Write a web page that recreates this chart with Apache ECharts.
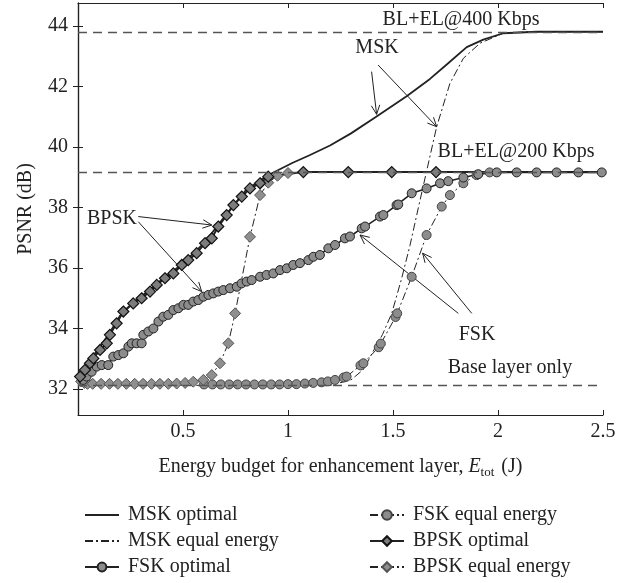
<!DOCTYPE html>
<html>
<head>
<meta charset="utf-8">
<script src="https://cdn.jsdelivr.net/npm/echarts@6/dist/echarts.min.js"></script>
<style>
html,body{margin:0;padding:0;background:#fff;}
#chart{width:631px;height:583px;}
</style>
</head>
<body>
<div id="chart"></div>
<script>
// ---------------- data ----------------
const xTicks = [0, 0.5, 1, 1.5, 2, 2.5];
const yTicks = [32, 34, 36, 38, 40, 42, 44];

const refLevels = [43.8, 39.16, 32.11];

const mskOptimal = [[0.01,32.42],[0.05,32.9],[0.1,33.35],[0.15,33.85],[0.2,34.42],[0.26,34.85],[0.3,35.05],[0.4,35.62],[0.5,36.15],[0.6,36.82],[0.7,37.72],[0.8,38.58],[0.9,39.05],[1.02,39.47],[1.1,39.72],[1.2,40.05],[1.3,40.45],[1.42,41.0],[1.565,41.68],[1.676,42.25],[1.76,42.75],[1.851,43.3],[1.93,43.55],[2.025,43.76],[2.184,43.81],[2.5,43.81]];

const mskEqual = [[0.03,32.12],[1.2,32.12],[1.3,32.3],[1.36,32.65],[1.406,33.25],[1.45,33.8],[1.494,34.5],[1.541,35.65],[1.581,36.75],[1.621,38.0],[1.66,39.2],[1.708,40.67],[1.771,42.1],[1.835,42.93],[1.914,43.43],[2.025,43.76],[2.15,43.81],[2.5,43.81]];

const fskOptimal = [[0.025,32.3],[0.041,32.41],[0.065,32.57],[0.089,32.74],[0.113,32.79],[0.144,32.79],[0.168,33.07],[0.192,33.12],[0.216,33.18],[0.24,33.4],[0.256,33.51],[0.279,33.51],[0.303,33.51],[0.311,33.79],[0.335,33.9],[0.359,34.0],[0.383,34.23],[0.406,34.39],[0.43,34.45],[0.454,34.61],[0.478,34.67],[0.502,34.78],[0.525,34.78],[0.549,34.89],[0.573,34.94],[0.597,35.05],[0.621,35.11],[0.644,35.16],[0.668,35.22],[0.692,35.27],[0.724,35.33],[0.756,35.38],[0.779,35.49],[0.803,35.55],[0.827,35.6],[0.867,35.71],[0.898,35.77],[0.93,35.82],[0.962,35.93],[0.994,35.99],[1.025,36.1],[1.057,36.16],[1.097,36.26],[1.121,36.37],[1.152,36.43],[1.192,36.65],[1.224,36.76],[1.271,36.98],[1.295,37.04],[1.351,37.31],[1.367,37.37],[1.438,37.7],[1.454,37.75],[1.517,38.08],[1.525,38.1],[1.589,38.47],[1.66,38.63],[1.724,38.8],[1.763,38.87],[1.835,38.99],[1.906,39.1],[1.994,39.16],[2.089,39.16],[2.184,39.16],[2.279,39.16],[2.383,39.16],[2.494,39.16]];

const fskEqual = [[0.6,32.15],[0.64,32.15],[0.68,32.15],[0.72,32.15],[0.76,32.15],[0.8,32.15],[0.84,32.15],[0.88,32.15],[0.92,32.15],[0.96,32.15],[1.0,32.16],[1.04,32.16],[1.08,32.18],[1.12,32.2],[1.16,32.22],[1.19,32.25],[1.224,32.3],[1.265,32.38],[1.279,32.41],[1.345,32.78],[1.359,32.85],[1.432,33.38],[1.442,33.5],[1.512,34.38],[1.52,34.5],[1.589,35.71],[1.66,37.09],[1.732,38.03],[1.771,38.41],[1.835,38.8],[1.898,39.07],[1.96,39.16]];

const bpskOptimal = [[0.01,32.41],[0.033,32.63],[0.057,32.85],[0.073,33.01],[0.105,33.29],[0.137,33.51],[0.152,33.79],[0.184,34.17],[0.216,34.56],[0.263,34.83],[0.303,35.0],[0.343,35.22],[0.375,35.44],[0.414,35.66],[0.454,35.82],[0.494,36.1],[0.525,36.26],[0.565,36.49],[0.605,36.82],[0.637,36.98],[0.668,37.37],[0.708,37.75],[0.74,38.08],[0.78,38.36],[0.819,38.63],[0.867,38.8],[0.906,39.02],[1.073,39.17],[1.287,39.17],[1.494,39.17],[1.705,39.17]];
// where the BPSK optimal line continues flat with no marker
const bpskOptimalTail = [2.5, 39.17];

const bpskEqual = [[0.015,32.25],[0.03,32.2],[0.045,32.17],[0.07,32.17],[0.11,32.17],[0.15,32.17],[0.19,32.17],[0.23,32.17],[0.27,32.17],[0.31,32.17],[0.35,32.17],[0.39,32.17],[0.43,32.17],[0.47,32.18],[0.51,32.2],[0.549,32.24],[0.597,32.3],[0.637,32.46],[0.676,32.85],[0.716,33.51],[0.748,34.5],[0.819,37.03],[0.867,38.41],[0.906,38.82],[0.95,39.05],[1.0,39.14]];

// annotation texts: [label, x, y]
const annoTexts = [
  ['BL+EL@400 Kbps', 1.824, 44.2],
  ['MSK', 1.424, 43.27],
  ['BL+EL@200 Kbps', 2.086, 39.83],
  ['BPSK', 0.162, 37.62],
  ['FSK', 1.9, 33.79],
  ['Base layer only', 2.057, 32.69]
];
// arrows: [fromX, fromY, toX, toY]
const annoArrows = [
  [1.398, 42.49, 1.422, 41.08],
  [1.429, 42.71, 1.708, 40.67],
  [0.287, 37.70, 0.637, 37.42],
  [0.287, 37.53, 0.589, 35.22],
  [1.811, 34.5, 1.343, 37.09],
  [1.875, 34.5, 1.641, 36.49]
];

// ---------------- chart ----------------
const FONT = 'Liberation Serif';
const INK = '#222';
const dashDot = [8, 3, 2, 3];
const chart = echarts.init(document.getElementById('chart'), null, {renderer: 'canvas'});

const legendText = {fontFamily: FONT, fontSize: 20, color: INK, lineHeight: 20, padding: [0, 0, 0, 4]};

const option = {
  animation: false,
  backgroundColor: '#fff',
  grid: {left: 78, right: 28, top: 3, bottom: 168, containLabel: false},
  legend: [
    {
      data: [
        {name: 'MSK optimal', itemStyle: {opacity: 0}},
        {name: 'MSK equal energy', itemStyle: {opacity: 0}},
        'FSK optimal'
      ],
      orient: 'vertical', left: 79, top: 500, itemGap: 6,
      itemWidth: 34, itemHeight: 11, textStyle: legendText, selectedMode: false
    },
    {
      data: ['FSK equal energy', 'BPSK optimal', 'BPSK equal energy'],
      orient: 'vertical', left: 364, top: 500, itemGap: 6,
      itemWidth: 34, itemHeight: 12, textStyle: legendText, selectedMode: false
    }
  ],
  xAxis: [
    {
      type: 'value', min: 0, max: 2.5, interval: 0.5, position: 'bottom',
      axisLine: {show: true, lineStyle: {color: INK, width: 1.2}},
      axisTick: {show: true, inside: true, length: 5, lineStyle: {color: INK}},
      axisLabel: {fontFamily: FONT, fontSize: 20, color: INK, margin: 7,
        formatter: v => (v === 0 ? '' : String(v))},
      splitLine: {show: false},
      name: 'Energy budget for enhancement layer, {i|E}{s|tot} (J)',
      nameLocation: 'middle', nameGap: 40,
      nameTextStyle: {fontFamily: FONT, fontSize: 20, color: INK, lineHeight: 24,
        rich: {
          i: {fontFamily: FONT, fontSize: 20, fontStyle: 'italic', color: INK, lineHeight: 24},
          s: {fontFamily: FONT, fontSize: 13, color: INK, verticalAlign: 'bottom', lineHeight: 24, padding: [0, 2, 0, 0]}
        }}
    },
    {
      type: 'value', min: 0, max: 2.5, interval: 0.5, position: 'top',
      axisLine: {show: true, lineStyle: {color: INK, width: 1.2}},
      axisTick: {show: true, inside: true, length: 5, lineStyle: {color: INK}},
      axisLabel: {show: false}, splitLine: {show: false}
    }
  ],
  yAxis: [
    {
      type: 'value', min: 31.14, max: 44.76, position: 'left',
      axisLine: {show: true, lineStyle: {color: INK, width: 1.2}},
      axisTick: {show: true, inside: true, length: 5, customValues: yTicks, lineStyle: {color: INK}},
      axisLabel: {fontFamily: FONT, fontSize: 20, color: INK, margin: 10, customValues: yTicks},
      splitLine: {show: false},
      name: 'PSNR (dB)', nameLocation: 'middle', nameGap: 42,
      nameTextStyle: {fontFamily: FONT, fontSize: 20, color: INK}
    },
    {
      type: 'value', min: 31.14, max: 44.76, position: 'right',
      axisLine: {show: true, lineStyle: {color: INK, width: 1.2}},
      axisTick: {show: true, inside: true, length: 5, customValues: yTicks, lineStyle: {color: INK}},
      axisLabel: {show: false}, splitLine: {show: false}
    }
  ],
  series: [
    {
      name: 'refs', type: 'line', data: [], xAxisIndex: 0, yAxisIndex: 0,
      markLine: {
        silent: true, symbol: ['none', 'none'], label: {show: false},
        lineStyle: {type: [9, 6], color: '#555', width: 1.4},
        data: refLevels.map(v => ({yAxis: v}))
      }
    },
    {
      name: 'FSK equal energy', type: 'line', data: fskEqual,
      symbol: 'circle', symbolSize: 9,
      lineStyle: {color: INK, width: 1, type: dashDot},
      itemStyle: {color: '#8c8c8c', borderColor: '#444', borderWidth: 1}
    },
    {
      name: 'MSK equal energy', type: 'line', data: mskEqual, symbol: 'none',
      lineStyle: {color: INK, width: 1, type: dashDot},
      itemStyle: {color: INK}
    },
    {
      name: 'BPSK equal energy', type: 'line', data: bpskEqual,
      symbol: 'diamond', symbolSize: 11,
      lineStyle: {color: INK, width: 1, type: dashDot},
      itemStyle: {color: '#8f8f8f', borderColor: '#555', borderWidth: 1}
    },
    {
      name: 'FSK optimal', type: 'line', data: fskOptimal,
      symbol: 'circle', symbolSize: 9,
      lineStyle: {color: INK, width: 1.6},
      itemStyle: {color: '#8c8c8c', borderColor: '#222', borderWidth: 1}
    },
    {
      name: 'BPSK optimal', type: 'line',
      data: bpskOptimal.concat([{value: bpskOptimalTail, symbol: 'none'}]),
      symbol: 'diamond', symbolSize: 11,
      lineStyle: {color: INK, width: 2},
      itemStyle: {color: '#7c7c7c', borderColor: '#111', borderWidth: 1.2}
    },
    {
      name: 'MSK optimal', type: 'line', data: mskOptimal, symbol: 'none',
      lineStyle: {color: INK, width: 1.8},
      itemStyle: {color: INK}
    }
  ]
};
chart.setOption(option);

// annotations positioned from data coordinates
function px(x, y) { return chart.convertToPixel({xAxisIndex: 0, yAxisIndex: 0}, [x, y]); }
const graphics = [];
annoTexts.forEach(t => {
  const p = px(t[1], t[2]);
  graphics.push({type: 'text', x: p[0], y: p[1], silent: true,
    style: {text: t[0], fontFamily: FONT, fontSize: 20, fill: INK, align: 'center', verticalAlign: 'middle'}});
});
annoArrows.forEach(a => {
  const p0 = px(a[0], a[1]);
  const p1 = px(a[2], a[3]);
  const dx = p1[0] - p0[0], dy = p1[1] - p0[1];
  const len = Math.sqrt(dx * dx + dy * dy);
  const ux = dx / len, uy = dy / len;
  const ang = 25 * Math.PI / 180, hl = 10;
  const rot = (s) => [ux * Math.cos(s) - uy * Math.sin(s), ux * Math.sin(s) + uy * Math.cos(s)];
  const r1 = rot(ang), r2 = rot(-ang);
  graphics.push({type: 'line', silent: true,
    shape: {x1: p0[0], y1: p0[1], x2: p1[0], y2: p1[1]},
    style: {stroke: INK, lineWidth: 1}});
  graphics.push({type: 'polyline', silent: true,
    shape: {points: [[p1[0] - r1[0] * hl, p1[1] - r1[1] * hl], [p1[0], p1[1]], [p1[0] - r2[0] * hl, p1[1] - r2[1] * hl]]},
    style: {stroke: INK, lineWidth: 1, fill: null}});
});
chart.setOption({graphic: graphics});
</script>
</body>
</html>
